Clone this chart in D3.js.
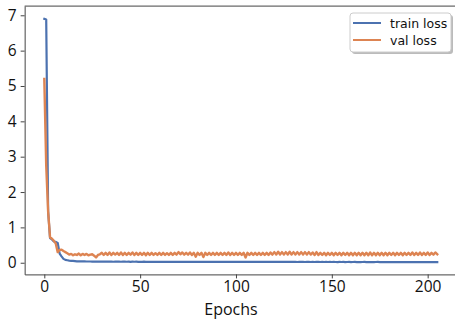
<!DOCTYPE html>
<html>
<head>
<meta charset="utf-8">
<script src="https://cdn.jsdelivr.net/npm/d3@7"></script>
<style>
  body { margin: 0; background: #fff; }
  svg { display: block; }
</style>
</head>
<body>
<div id="chart"></div>
<script>
// loss per epoch
const trainLoss = [
  6.90, 6.88, 1.45, 0.70, 0.66, 0.60, 0.59, 0.56, 0.26, 0.18,
  0.11, 0.08, 0.07, 0.06, 0.055, 0.05, 0.045, 0.04, 0.04, 0.04,
  0.04, 0.04, 0.035, 0.035, 0.035, 0.03, 0.035, 0.03, 0.03, 0.03,
  0.03, 0.032, 0.03, 0.029, 0.03, 0.031, 0.028, 0.03, 0.029, 0.03,
  0.028, 0.03, 0.029, 0.028, 0.03, 0.027, 0.029, 0.028, 0.03, 0.027,
  0.028, 0.027, 0.029, 0.027, 0.028, 0.026, 0.028, 0.027, 0.026, 0.028,
  0.027, 0.026, 0.027, 0.028, 0.026, 0.027, 0.025, 0.027, 0.026, 0.027,
  0.026, 0.025, 0.027, 0.026, 0.025, 0.026, 0.027, 0.025, 0.026, 0.025,
  0.026, 0.025, 0.024, 0.026, 0.025, 0.026, 0.024, 0.025, 0.026, 0.024,
  0.025, 0.024, 0.025, 0.026, 0.024, 0.025, 0.023, 0.025, 0.024, 0.025,
  0.024, 0.023, 0.025, 0.024, 0.023, 0.024, 0.025, 0.023, 0.024, 0.023,
  0.024, 0.023, 0.024, 0.022, 0.024, 0.023, 0.024, 0.022, 0.023, 0.024,
  0.022, 0.023, 0.022, 0.024, 0.023, 0.022, 0.023, 0.022, 0.023, 0.022,
  0.023, 0.022, 0.021, 0.023, 0.022, 0.023, 0.021, 0.022, 0.023, 0.021,
  0.022, 0.021, 0.022, 0.023, 0.021, 0.022, 0.021, 0.022, 0.021, 0.022,
  0.021, 0.022, 0.021, 0.02, 0.022, 0.021, 0.022, 0.02, 0.021, 0.022,
  0.02, 0.021, 0.022, 0.02, 0.021, 0.02, 0.021, 0.022, 0.02, 0.021,
  0.02, 0.021, 0.02, 0.021, 0.022, 0.02, 0.021, 0.02, 0.021, 0.02,
  0.021, 0.02, 0.021, 0.02, 0.019, 0.021, 0.02, 0.021, 0.02, 0.019,
  0.02, 0.021, 0.02, 0.019, 0.02, 0.021, 0.02, 0.019, 0.02, 0.02,
  0.019, 0.02, 0.02, 0.019, 0.02, 0.02
];

const valLoss = [
  5.20, 2.75, 1.45, 0.72, 0.68, 0.62, 0.54, 0.30, 0.36, 0.37,
  0.33, 0.30, 0.27, 0.23, 0.25, 0.21, 0.24, 0.22, 0.26, 0.21,
  0.25, 0.22, 0.25, 0.21, 0.23, 0.24, 0.20, 0.15, 0.22,
  0.24, 0.28, 0.22, 0.28, 0.22, 0.29, 0.22, 0.28, 0.23, 0.28,
  0.22, 0.29, 0.22, 0.28, 0.22, 0.28, 0.23, 0.29, 0.22, 0.28,
  0.22, 0.28, 0.22, 0.28, 0.21, 0.28, 0.22, 0.28, 0.22, 0.27,
  0.22, 0.28, 0.22, 0.28, 0.22, 0.27, 0.22, 0.28, 0.22, 0.28,
  0.23, 0.30, 0.24, 0.29, 0.23, 0.28, 0.23, 0.29, 0.22, 0.28,
  0.17, 0.28, 0.22, 0.28, 0.16, 0.28, 0.22, 0.28, 0.22, 0.28,
  0.22, 0.28, 0.22, 0.28, 0.22, 0.28, 0.22, 0.29, 0.22, 0.28,
  0.22, 0.28, 0.22, 0.28, 0.22, 0.28, 0.15, 0.28, 0.22, 0.28,
  0.22, 0.28, 0.22, 0.28, 0.22, 0.28, 0.22, 0.28, 0.22, 0.29,
  0.23, 0.30, 0.23, 0.31, 0.23, 0.30, 0.23, 0.30, 0.23, 0.31,
  0.23, 0.30, 0.23, 0.30, 0.23, 0.30, 0.23, 0.30, 0.23, 0.30,
  0.23, 0.29, 0.22, 0.30, 0.22, 0.28, 0.22, 0.28, 0.21, 0.28,
  0.22, 0.28, 0.21, 0.28, 0.22, 0.28, 0.21, 0.28, 0.22, 0.28,
  0.21, 0.28, 0.21, 0.28, 0.21, 0.28, 0.21, 0.28, 0.21, 0.28,
  0.21, 0.29, 0.21, 0.28, 0.21, 0.28, 0.21, 0.28, 0.21, 0.28,
  0.21, 0.28, 0.22, 0.28, 0.21, 0.28, 0.22, 0.28, 0.21, 0.28,
  0.22, 0.28, 0.22, 0.29, 0.22, 0.28, 0.22, 0.29, 0.22, 0.28,
  0.22, 0.29, 0.22, 0.28, 0.23, 0.29, 0.24
];

const epochs = trainLoss.map((d, i) => i);
const xTicks = [0, 50, 100, 150, 200];
const yTicks = [0, 1, 2, 3, 4, 5, 6, 7];
const seriesNames = ["train loss", "val loss"];
const seriesColors = ["#4c72b0", "#dd8452"];

const width = 455, height = 320;

const svg = d3.select("#chart").append("svg")
  .attr("width", width)
  .attr("height", height);

const x = d3.scaleLinear().domain([-10.25, 215.25]).range([24.65, 456.9]);
const y = d3.scaleLinear().domain([-0.33, 7.26]).range([274.4, 6.1]);

const line = d3.line()
  .x((d, i) => x(epochs[i]))
  .y(d => y(d));

[trainLoss, valLoss].forEach((s, k) => {
  svg.append("path")
    .datum(s)
    .attr("fill", "none")
    .attr("stroke", seriesColors[k])
    .attr("stroke-width", k ? 2.4 : 2.2)
    .attr("stroke-linejoin", "round")
    .attr("stroke-linecap", "square")
    .attr("d", line);
});

// spines
svg.append("line")
  .attr("x1", x.range()[0]).attr("x2", x.range()[1])
  .attr("y1", y.range()[1]).attr("y2", y.range()[1])
  .attr("stroke", "#444").attr("stroke-width", 1);

const xAxis = svg.append("g")
  .attr("transform", `translate(0,${y.range()[0]})`)
  .call(d3.axisBottom(x).tickValues(xTicks).tickSize(4).tickSizeOuter(0).tickPadding(3));

const yAxis = svg.append("g")
  .attr("transform", `translate(${x.range()[0]},0)`)
  .call(d3.axisLeft(y).tickValues(yTicks).tickSize(4).tickSizeOuter(0).tickPadding(4));

[xAxis, yAxis].forEach(g => {
  g.select(".domain").attr("stroke", "#444");
  g.selectAll(".tick line").attr("stroke", "#444");
  g.selectAll(".tick text")
    .style("font-family", "'Open Sans', sans-serif")
    .style("font-size", "15.5px")
    .attr("fill", "#111");
});

svg.append("text")
  .attr("x", 231)
  .attr("y", 315)
  .attr("text-anchor", "middle")
  .style("font-family", "'Open Sans', sans-serif")
  .style("font-size", "16px")
  .attr("fill", "#111")
  .text("Epochs");

// legend
const legend = svg.append("g").attr("transform", "translate(350,13)");
legend.append("rect")
  .attr("x", 2).attr("y", 2)
  .attr("width", 101).attr("height", 39)
  .attr("rx", 3)
  .attr("fill", "#bbb");
legend.append("rect")
  .attr("width", 101).attr("height", 39)
  .attr("rx", 3)
  .attr("fill", "#fff")
  .attr("stroke", "#ccc");

seriesNames.forEach((name, i) => {
  const ly = 10 + i * 17;
  legend.append("line")
    .attr("x1", 3).attr("x2", 31)
    .attr("y1", ly).attr("y2", ly)
    .attr("stroke", seriesColors[i])
    .attr("stroke-width", 2);
  legend.append("text")
    .attr("x", 40).attr("y", ly + 4.5)
    .style("font-family", "'DejaVu Sans', sans-serif")
    .style("font-size", "12.5px")
    .attr("fill", "#111")
    .text(name);
});
</script>
</body>
</html>
